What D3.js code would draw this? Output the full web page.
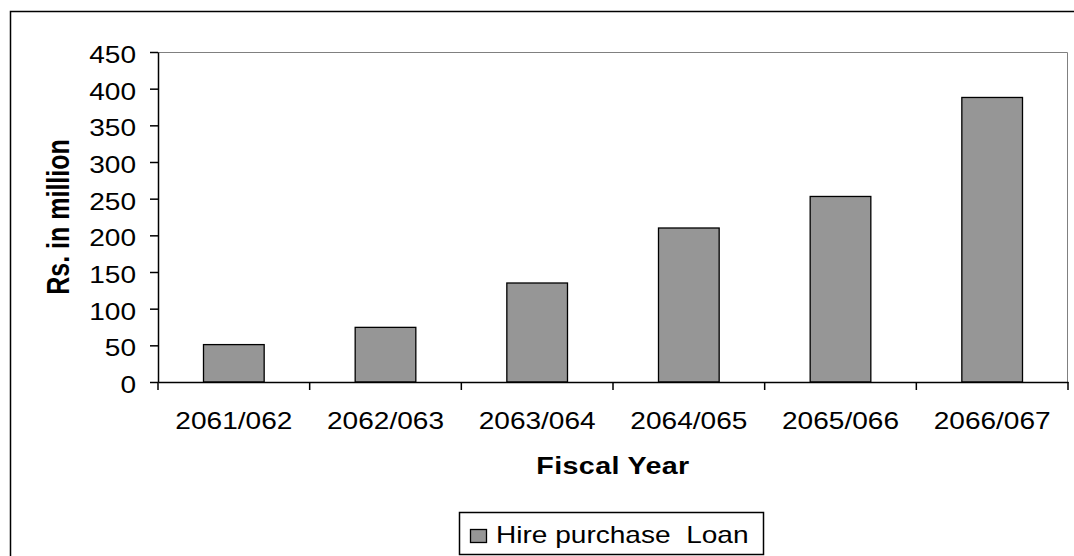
<!DOCTYPE html>
<html>
<head>
<meta charset="utf-8">
<script src="https://cdn.jsdelivr.net/npm/d3@7"></script>
<style>
  body { margin: 0; background: #fff; }
  svg { display: block; font-family: "Liberation Sans", Arial, sans-serif; }
  .tick text { font-size: 23px; fill: #000; }
</style>
</head>
<body>
<div id="chart"></div>
<script>
(function() {

// data
var years = ['2061/062', '2062/063', '2063/064', '2064/065', '2065/066', '2066/067'];
var loan = [51, 74.5, 135, 210, 253, 388];
var yTicks = [0, 50, 100, 150, 200, 250, 300, 350, 400, 450];
var seriesName = 'Hire purchase  Loan';

// the original picture is stretched sideways, so text gets widened too
var sx = 1.22;

var W = 1074, H = 556;
var margin = {top: 52, right: 6, bottom: 174, left: 158},
    width = W - margin.left - margin.right,
    height = H - margin.top - margin.bottom;

var svg = d3.select('#chart').append('svg')
    .attr('width', W)
    .attr('height', H);

// outer chart border
svg.append('rect')
    .attr('x', 10.5).attr('y', 11.5)
    .attr('width', W + 10).attr('height', H + 10)
    .attr('fill', 'none')
    .attr('stroke', '#000')
    .attr('stroke-width', 1.5);

var g = svg.append('g')
    .attr('transform', 'translate(' + margin.left + ',' + margin.top + ')');

var x = d3.scaleBand().domain(years).range([0, width]).padding(0);
var y = d3.scaleLinear().domain([0, 450]).range([height, 0]);

// plot area frame (grey top / right)
g.append('path')
    .attr('d', 'M0,0.5H' + (width - 0.5) + 'V' + height)
    .attr('fill', 'none')
    .attr('stroke', '#808080')
    .attr('stroke-width', 1);

// bars
var barW = x.bandwidth() * 0.4;
g.selectAll('.bar')
    .data(loan)
  .enter().append('rect')
    .attr('class', 'bar')
    .attr('x', function(d, i) { return x(years[i]) + (x.bandwidth() - barW) / 2; })
    .attr('y', function(d) { return y(d); })
    .attr('width', barW)
    .attr('height', function(d) { return height - y(d); })
    .attr('fill', '#969696')
    .attr('stroke', '#000')
    .attr('stroke-width', 1.3);

// y axis
var yAxis = g.append('g')
    .attr('class', 'yaxis')
    .call(d3.axisLeft(y).tickValues(yTicks).tickSize(8).tickPadding(0).tickSizeOuter(0));
yAxis.select('.domain').attr('stroke', '#000').attr('stroke-width', 1.5);
yAxis.selectAll('.tick line').attr('stroke', '#000').attr('stroke-width', 1.5);
yAxis.selectAll('.tick text')
    .attr('x', -22 / sx)
    .attr('dy', '0.45em')
    .attr('transform', 'scale(' + sx + ',1)');

// x axis: labels centred, ticks at the category boundaries
var xAxis = g.append('g')
    .attr('class', 'xaxis')
    .attr('transform', 'translate(0,' + height + ')')
    .call(d3.axisBottom(x).tickSize(0).tickPadding(0).tickSizeOuter(0));
xAxis.select('.domain').attr('stroke', '#000').attr('stroke-width', 1.5);
xAxis.selectAll('.tick text')
    .attr('y', 47)
    .attr('dy', 0)
    .attr('transform', 'scale(' + sx + ',1)');

var bounds = years.map(function(d) { return x(d); }).concat([x(years[years.length - 1]) + x.bandwidth()]);
xAxis.selectAll('.bound')
    .data(bounds)
  .enter().append('line')
    .attr('class', 'bound')
    .attr('x1', function(d) { return d; })
    .attr('x2', function(d) { return d; })
    .attr('y1', 0)
    .attr('y2', 8)
    .attr('stroke', '#000')
    .attr('stroke-width', 1.5);

// axis titles
svg.append('text')
    .attr('transform', 'translate(613,474) scale(' + sx + ',1)')
    .attr('text-anchor', 'middle')
    .style('font-size', '23.5px')
    .style('font-weight', 'bold')
    .style('letter-spacing', '0.3px')
    .text('Fiscal Year');

svg.append('text')
    .attr('transform', 'translate(69,' + (margin.top + height / 2) + ') scale(' + sx + ',1) rotate(-90)')
    .attr('text-anchor', 'middle')
    .style('font-size', '25px')
    .style('font-weight', 'bold')
    .text('Rs. in million');

// legend
var legend = svg.append('g').attr('class', 'legend');
legend.append('rect')
    .attr('x', 459.5).attr('y', 512.5)
    .attr('width', 304).attr('height', 42)
    .attr('fill', '#fff')
    .attr('stroke', '#000')
    .attr('stroke-width', 1.5);
legend.append('rect')
    .attr('x', 470.5).attr('y', 529.5)
    .attr('width', 16).attr('height', 13)
    .attr('fill', '#969696')
    .attr('stroke', '#000')
    .attr('stroke-width', 1.3);
legend.append('text')
    .attr('transform', 'translate(496,543) scale(' + sx + ',1)')
    .attr('xml:space', 'preserve')
    .style('white-space', 'pre')
    .style('font-size', '23px')
    .text(seriesName);

})();
</script>
</body>
</html>
